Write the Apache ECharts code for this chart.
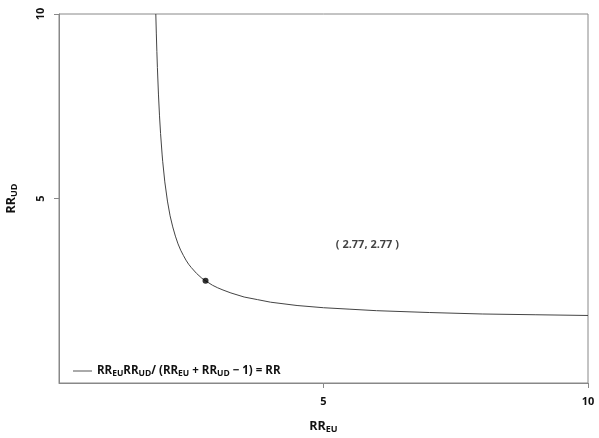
<!DOCTYPE html>
<html>
<head>
<meta charset="utf-8">
<script src="https://cdn.jsdelivr.net/npm/echarts@6/dist/echarts.min.js"></script>
<style>html,body{margin:0;padding:0;background:#fff}#c{width:599px;height:438px}</style>
</head>
<body>
<div id="c"></div>
<script>
// Curve values (RR_EU, RR_UD)
var curveX = [1.83, 1.84, 1.85, 1.86, 1.88, 1.9, 1.92, 1.95, 1.96, 2.0, 2.05, 2.1, 2.15, 2.2, 2.25, 2.3, 2.35, 2.4, 2.45, 2.5, 2.6, 2.7, 2.77, 2.9, 3.0, 3.1, 3.25, 3.5, 3.75, 4.0, 4.5, 5.0, 5.5, 6.0, 7.0, 8.0, 9.0, 10.0];
var curveY = [10.0, 9.46, 8.98, 8.55, 7.83, 7.24, 6.76, 6.18, 6.01, 5.45, 4.93, 4.53, 4.23, 3.98, 3.77, 3.60, 3.46, 3.33, 3.22, 3.13, 2.97, 2.84, 2.77, 2.65, 2.58, 2.52, 2.44, 2.33, 2.26, 2.19, 2.10, 2.04, 2.00, 1.96, 1.91, 1.87, 1.85, 1.83];
var pointX = [2.77];
var pointY = [2.77];
var annotationText = '( 2.77, 2.77 )';
var annotationAt = [5.83, 3.74];
var tickValues = [5, 10];
var seriesName = 'RR_EU RR_UD/ (RR_EU + RR_UD − 1) = RR';

var curveData = curveX.map(function (x, i) { return [x, curveY[i]]; });
var pointData = pointX.map(function (x, i) { return [x, pointY[i]]; });

var FONT = 'Open Sans';
var axisGray = '#888888';
var rich = {
  b: { fontFamily: FONT, fontWeight: 'bold', fontSize: 11.5, color: '#111' },
  s: { fontFamily: FONT, fontWeight: 'bold', fontSize: 8.5, color: '#111', verticalAlign: 'bottom', padding: [6, 0, 0, 0] }
};
var richTitle = {
  b: { fontFamily: FONT, fontWeight: 'bold', fontSize: 12.5, color: '#111' },
  s: { fontFamily: FONT, fontWeight: 'bold', fontSize: 9, color: '#111', verticalAlign: 'bottom', padding: [6, 0, 0, 0] }
};

var chart = echarts.init(document.getElementById('c'), null, { renderer: 'canvas' });
chart.setOption({
  animation: false,
  backgroundColor: '#fff',
  grid: { left: 59, right: 11, top: 14, bottom: 55, show: true, borderColor: axisGray, borderWidth: 1, outerBoundsMode: 'none', containLabel: false },
  xAxis: {
    type: 'value', min: 0, max: 10, interval: 5,
    name: '{b|RR}{s|EU}', nameLocation: 'middle', nameGap: 36,
    nameTextStyle: { rich: richTitle },
    axisLine: { show: true, lineStyle: { color: axisGray } },
    axisTick: { show: true, length: 5, lineStyle: { color: axisGray }, customValues: tickValues },
    axisLabel: { customValues: tickValues, margin: 13, fontFamily: FONT, fontWeight: 'bold', fontSize: 11, color: '#111' },
    splitLine: { show: false }
  },
  yAxis: {
    type: 'value', min: 0, max: 10, interval: 5,
    name: '{b|RR}{s|UD}', nameLocation: 'middle', nameGap: 40, nameRotate: 90,
    nameTextStyle: { rich: richTitle },
    axisLine: { show: true, lineStyle: { color: axisGray } },
    axisTick: { show: true, length: 5, lineStyle: { color: axisGray }, customValues: tickValues },
    axisLabel: { customValues: tickValues, rotate: 90, margin: 13, fontFamily: FONT, fontWeight: 'bold', fontSize: 11, color: '#111' },
    splitLine: { show: false }
  },
  legend: {
    left: 68, top: 360, orient: 'vertical',
    icon: 'rect', itemWidth: 19, itemHeight: 1, itemGap: 6,
    data: [{ name: seriesName, itemStyle: { color: '#555' } }],
    formatter: function () {
      return '{b|RR}{s|EU}{b|RR}{s|UD}{b|/ (RR}{s|EU}{b| + RR}{s|UD}{b| − 1) = RR}';
    },
    textStyle: { rich: rich }
  },
  series: [
    {
      name: seriesName, type: 'line', data: curveData, showSymbol: false, symbol: 'none',
      smooth: false,
      lineStyle: { color: '#444', width: 1 }, silent: true
    },
    {
      name: 'point', type: 'scatter', data: pointData, symbolSize: 6,
      itemStyle: { color: '#000' }, z: 5
    },
    {
      name: 'annotation', type: 'scatter', data: [annotationAt], symbolSize: 0,
      label: { show: true, position: 'inside', formatter: annotationText, fontFamily: FONT, fontWeight: 'bold', fontSize: 11, color: '#111' }
    }
  ]
});
</script>
</body>
</html>
